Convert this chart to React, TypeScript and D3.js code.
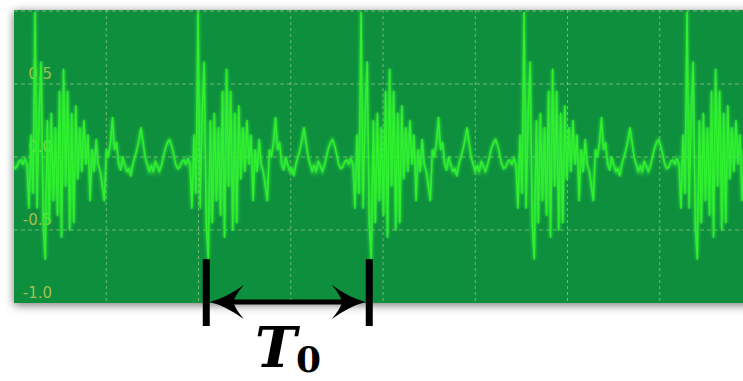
import * as d3 from 'd3'

const W = 743
const H = 381

const periodSamples = [
  -0.05, -0.35, 0.15, -0.25, 0.99, -0.35, 0.3, 0.65, -0.45, -0.7,
  0.25, -0.45, 0.3, -0.3, 0.2, -0.4, 0.45, -0.55, 0.6, -0.2,
  0.45, -0.5, 0.3, -0.45, 0.35, -0.15, 0.2, -0.1, 0.25, -0.05,
  0.15, -0.3, 0.05, -0.1, 0.12, -0.05, -0.1, -0.2, -0.3, 0.05,
  0.0, 0.1, 0.27, 0.05, 0.1, -0.05, -0.09, 0.0, -0.05, -0.1,
  -0.08, -0.13, -0.05, 0.0, 0.05, 0.12, 0.2, 0.1, 0.0, -0.05,
  -0.1, -0.06, -0.1, -0.03, -0.06, -0.1, -0.06, 0.0, 0.06, 0.1,
  0.12, 0.08, 0.02, -0.05, -0.08, -0.07, -0.03, -0.02, -0.05, -0.01,
]
const cycles = [-1, 0, 1, 2, 3, 4]
const periodDiv = 1.767 // period length in grid divisions
const firstOnsetDiv = 0.14

const yTickValues = [0.5, 0.0, -0.5, -1.0]
const yTickLabels = ['0.5', '0.0', '-0.5', '-1.0']
const hGrid = [1.0, 0.5, 0.0, -0.5]
const vGrid = [1, 2, 3, 4, 5, 6, 7]

// T0 marker sits on the negative spike of cycles 1 and 2
const markerCycles = [1, 2]
const markerSample = 9

const panel = { left: 14, top: 10, right: 770, bottom: 303 }

export default function App() {
  const x = d3.scaleLinear().domain([0, 8]).range([panel.left, panel.left + 8 * 92.25])
  const y = d3.scaleLinear().domain([-1, 1]).range([303, 11])

  const sampleDiv = (c: number, i: number) =>
    firstOnsetDiv + c * periodDiv + (i * periodDiv) / periodSamples.length

  const points: [number, number][] = []
  cycles.forEach(c => {
    periodSamples.forEach((v, i) => points.push([sampleDiv(c, i), v]))
  })

  const line = d3.line<[number, number]>()
    .x(d => x(d[0]))
    .y(d => y(d[1]))
  const path = line(points) || ''

  const markX = markerCycles.map(c => x(sampleDiv(c, markerSample)) - 2)
  const arrowY = 302
  const headL = 34, headH = 17

  const head = (tip: number, dir: number) => {
    const b = tip + dir * headL
    const n = tip + dir * 24
    return `M${tip},${arrowY} Q${tip + dir * 16},${arrowY - 4} ${b},${arrowY - headH} Q${n},${arrowY - 5} ${n},${arrowY} Q${n},${arrowY + 5} ${b},${arrowY + headH} Q${tip + dir * 16},${arrowY + 4} ${tip},${arrowY} Z`
  }

  return (
    <svg width={W} height={H} style={{ position: 'absolute', left: 0, top: 0, background: '#fff' }}>
      <defs>
        <filter id="shadow" x="-5%" y="-10%" width="110%" height="125%">
          <feDropShadow dx="0" dy="2" stdDeviation="5" floodColor="#000" floodOpacity="0.55" />
        </filter>
        <filter id="glow" x="-5%" y="-5%" width="110%" height="110%">
          <feGaussianBlur stdDeviation="1.6" />
        </filter>
        <clipPath id="panelClip">
          <rect x={panel.left} y={panel.top} width={panel.right - panel.left} height={panel.bottom - panel.top} />
        </clipPath>
      </defs>

      <rect x={panel.left} y={panel.top} width={panel.right - panel.left} height={panel.bottom - panel.top}
        fill="#0b8f3c" filter="url(#shadow)" />

      <g clipPath="url(#panelClip)">
        {hGrid.map(v => (
          <line key={'h' + v} x1={panel.left} x2={panel.right} y1={y(v)} y2={y(v)}
            stroke="#c8dca0" strokeOpacity={0.55} strokeWidth={1} strokeDasharray="4,3" />
        ))}
        {vGrid.map(d => (
          <line key={'v' + d} x1={x(d)} x2={x(d)} y1={panel.top} y2={panel.bottom}
            stroke="#c8dca0" strokeOpacity={0.55} strokeWidth={1} strokeDasharray="3,3" />
        ))}
        {yTickValues.map((v, i) => (
          <text key={'t' + i} x={52} y={y(v) - 5} textAnchor="end" fontFamily="DejaVu Sans" fontSize={15}
            fill="#b8c850" fillOpacity={0.9}>{yTickLabels[i]}</text>
        ))}
        <path d={path} fill="none" stroke="#3cff3c" strokeWidth={3} strokeOpacity={0.6} filter="url(#glow)" />
        <path d={path} fill="none" stroke="#2ef02e" strokeWidth={1.6} strokeLinejoin="round" />
      </g>

      {markX.map((mx, i) => (
        <rect key={'m' + i} x={mx - 3.5} y={y(-0.7)} width={7} height={326 - y(-0.7)} fill="#000" />
      ))}
      <rect x={markX[0] + 20} y={arrowY - 2.5} width={markX[1] - markX[0] - 40} height={5} fill="#000" />
      <path d={head(markX[0] + 3.5, 1)} fill="#000" />
      <path d={head(markX[1] - 3.5, -1)} fill="#000" />

      <text x={255} y={367} fontFamily="DejaVu Serif" fontWeight="bold" fontStyle="italic" fontSize={56} fill="#000">T</text>
      <text x={296} y={372} fontFamily="DejaVu Serif" fontWeight="bold" fontSize={36} fill="#000">0</text>
    </svg>
  )
}
